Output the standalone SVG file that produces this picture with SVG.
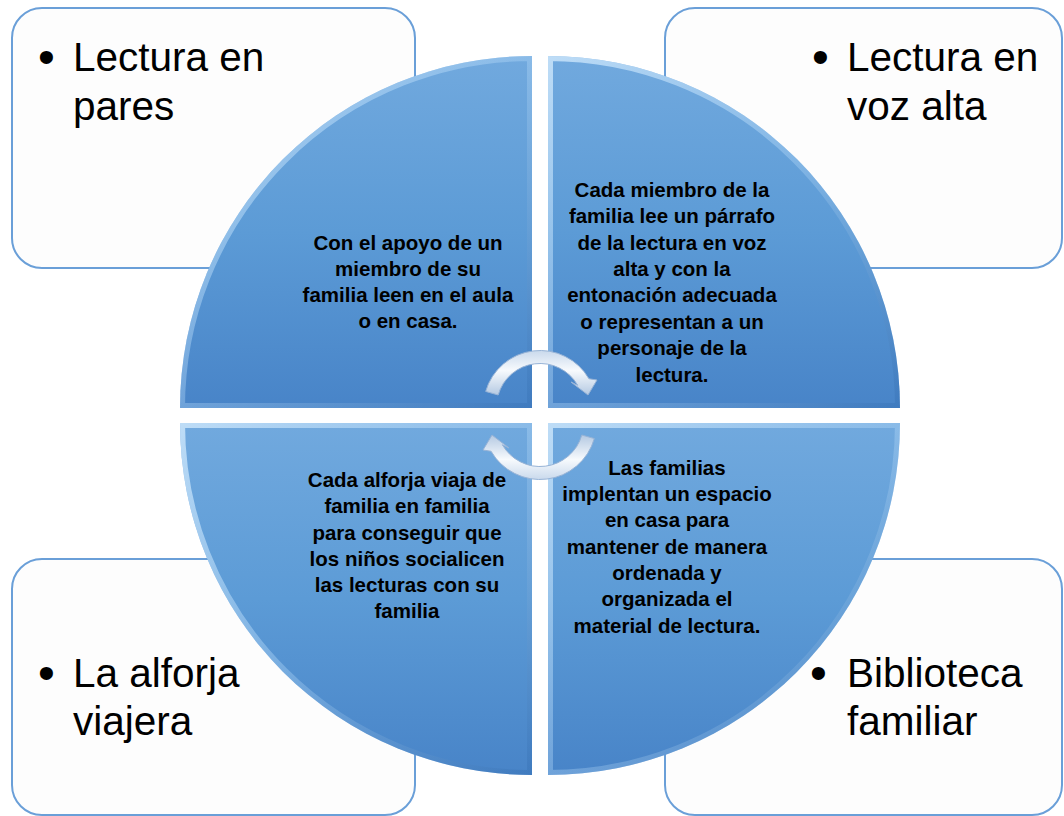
<svg xmlns="http://www.w3.org/2000/svg" width="1064" height="816" viewBox="0 0 1064 816">
<style>
.box{fill:#fdfdfd;stroke:#6a9fd8;stroke-width:2}
.big{font-family:"Liberation Sans",Arial,sans-serif;font-size:40.5px;fill:#000}
.bul{font-family:"Liberation Sans",Arial,sans-serif;font-size:48px;fill:#000}
.q{font-family:"Liberation Sans",Arial,sans-serif;font-size:20.5px;font-weight:bold;fill:#000;text-anchor:middle}
.bevel{fill:none;stroke:url(#bev);stroke-width:10}
.arrow{fill:url(#arr);stroke:#97b3d6;stroke-width:1}
</style>
<defs>
<linearGradient id="qg" x1="0" y1="0" x2="0" y2="1">
<stop offset="0" stop-color="#71a9de"/>
<stop offset="0.5" stop-color="#5c9bd6"/>
<stop offset="1" stop-color="#4884c8"/>
</linearGradient>
<linearGradient id="bev" x1="0" y1="0" x2="1" y2="1">
<stop offset="0" stop-color="#d8eeff" stop-opacity="0.75"/>
<stop offset="0.5" stop-color="#b8dcfa" stop-opacity="0.35"/>
<stop offset="1" stop-color="#2f6aae" stop-opacity="0.35"/>
</linearGradient>
<linearGradient id="arr" x1="0" y1="0" x2="0" y2="1">
<stop offset="0" stop-color="#c9d9ec"/>
<stop offset="0.45" stop-color="#f7fafd"/>
<stop offset="1" stop-color="#b4c9e2"/>
</linearGradient>
<path id="pTL" d="M532,408 L180,408 A352,352 0 0 1 532,56 Z"/>
<path id="pTR" d="M548,408 L548,56 A352,352 0 0 1 900,408 Z"/>
<path id="pBL" d="M532,423 L532,775 A352,352 0 0 1 180,423 Z"/>
<path id="pBR" d="M548,423 L900,423 A352,352 0 0 1 548,775 Z"/>
<clipPath id="cTL"><use href="#pTL"/></clipPath>
<clipPath id="cTR"><use href="#pTR"/></clipPath>
<clipPath id="cBL"><use href="#pBL"/></clipPath>
<clipPath id="cBR"><use href="#pBR"/></clipPath>
<path id="arrowPath" d="M485.69,391.43 A56.5,56.5 0 0 1 588.93,378.75 L597,380 L588,395 L571,382 L577.67,385.25 A43.5,43.5 0 0 0 498.18,395.01 Z"/>
</defs>

<g id="box-tl">
<rect class="box" x="12" y="8" width="403" height="260" rx="30"/>
<text class="bul" x="38" y="73">•</text>
<text class="big" x="73" y="71">Lectura en</text>
<text class="big" x="73" y="120">pares</text>
</g>
<g id="box-tr">
<rect class="box" x="665" y="8" width="397" height="260" rx="30"/>
<text class="bul" x="812" y="73">•</text>
<text class="big" x="847" y="71">Lectura en</text>
<text class="big" x="847" y="120">voz alta</text>
</g>
<g id="box-bl">
<rect class="box" x="12" y="559" width="403" height="256" rx="30"/>
<text class="bul" x="38" y="689">•</text>
<text class="big" x="73" y="687">La alforja</text>
<text class="big" x="73" y="735">viajera</text>
</g>
<g id="box-br">
<rect class="box" x="665" y="559" width="397" height="256" rx="30"/>
<text class="bul" x="810" y="689">•</text>
<text class="big" x="847" y="687">Biblioteca</text>
<text class="big" x="847" y="735">familiar</text>
</g>

<g id="quad-tl">
<use href="#pTL" fill="url(#qg)"/>
<use href="#pTL" class="bevel" clip-path="url(#cTL)"/>
<text class="q" x="408" y="250">Con el apoyo de un</text>
<text class="q" x="408" y="276">miembro de su</text>
<text class="q" x="408" y="302">familia leen en el aula</text>
<text class="q" x="408" y="328">o en casa.</text>
</g>
<g id="quad-tr">
<use href="#pTR" fill="url(#qg)"/>
<use href="#pTR" class="bevel" clip-path="url(#cTR)"/>
<text class="q" x="672" y="197">Cada miembro de la</text>
<text class="q" x="672" y="223">familia lee un párrafo</text>
<text class="q" x="672" y="250">de la lectura en voz</text>
<text class="q" x="672" y="276">alta y con la</text>
<text class="q" x="672" y="302">entonación adecuada</text>
<text class="q" x="672" y="329">o representan a un</text>
<text class="q" x="672" y="355">personaje de la</text>
<text class="q" x="672" y="382">lectura.</text>
</g>
<g id="quad-bl">
<use href="#pBL" fill="url(#qg)"/>
<use href="#pBL" class="bevel" clip-path="url(#cBL)"/>
<text class="q" x="407" y="487">Cada alforja viaja de</text>
<text class="q" x="407" y="513">familia en familia</text>
<text class="q" x="407" y="540">para conseguir que</text>
<text class="q" x="407" y="566">los niños socialicen</text>
<text class="q" x="407" y="592">las lecturas con su</text>
<text class="q" x="407" y="618">familia</text>
</g>
<g id="quad-br">
<use href="#pBR" fill="url(#qg)"/>
<use href="#pBR" class="bevel" clip-path="url(#cBR)"/>
<text class="q" x="667" y="475">Las familias</text>
<text class="q" x="667" y="501">implentan un espacio</text>
<text class="q" x="667" y="527">en casa para</text>
<text class="q" x="667" y="554">mantener de manera</text>
<text class="q" x="667" y="580">ordenada y</text>
<text class="q" x="667" y="606">organizada el</text>
<text class="q" x="667" y="633">material de lectura.</text>
</g>

<g id="connectors">
<use href="#arrowPath" class="arrow"/>
<use href="#arrowPath" class="arrow" transform="rotate(180 540 415)"/>
</g>
</svg>
